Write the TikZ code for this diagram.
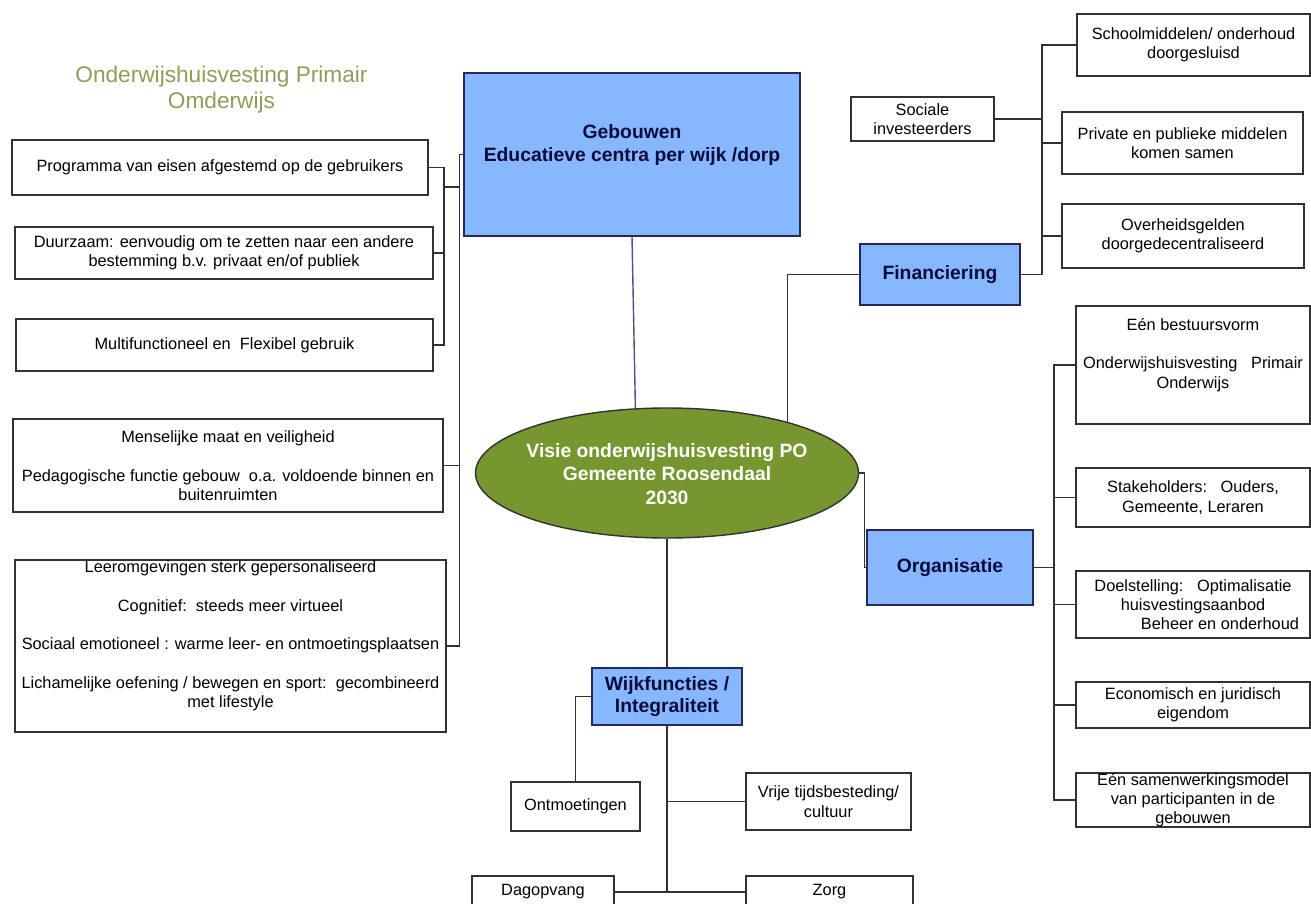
\documentclass[tikz,border=0pt]{standalone}
\usepackage{fontspec}
\setmainfont{Liberation Sans}
\usetikzlibrary{shapes.geometric}
\definecolor{linec}{RGB}{50,50,50}
\definecolor{navyb}{RGB}{40,40,90}
\definecolor{bluef}{RGB}{135,183,255}
\definecolor{greenf}{RGB}{118,150,48}
\definecolor{olivet}{RGB}{140,158,88}
\definecolor{navyt}{RGB}{12,12,60}
\definecolor{purl}{RGB}{80,80,140}
\begin{document}
\begin{tikzpicture}[x=0.02cm,y=-0.02cm,
 sz/.style 2 args={minimum width=#1*0.02cm, minimum height=#2*0.02cm},
 box/.style={draw=linec, line width=0.7pt, fill=white, inner sep=0pt, font=\fontsize{9.3}{11}\selectfont, align=center},
 bbox/.style={draw=navyb, fill=bluef, line width=0.8pt, inner sep=0pt, font=\fontsize{11}{13}\selectfont\bfseries, text=navyt, align=center},
 txt/.style={inner sep=0pt, font=\fontsize{9.3}{11}\selectfont, align=center},
 btxt/.style={inner sep=0pt, font=\fontsize{11}{13}\selectfont\bfseries, text=navyt, align=center},
 conn/.style={draw=linec, line width=0.8pt}]
\useasboundingbox (0,0) rectangle (1311,903);
\clip (0,0) rectangle (1311,903);

% title
\node[font=\fontsize{12.9}{14.7}\selectfont, text=olivet, align=center, inner sep=0pt] (title) at (221.5,90) {Onderwijshuisvesting Primair\\Omderwijs};

% left boxes
\node[box, sz={416}{55}] (b1) at (220,167.5) {Programma van eisen afgestemd op de gebruikers};
\node[box, sz={418}{52}] (b2) at (224,253) {Duurzaam: eenvoudig om te zetten naar een andere\\bestemming b.v. privaat en/of publiek};
\node[box, sz={417}{52}] (b3) at (224.5,345) {Multifunctioneel en~~Flexibel gebruik};
\node[box, sz={430}{93}] (b4) at (228,465.5) {Menselijke maat en veiligheid\\[11pt]Pedagogische functie gebouw~~o.a. voldoende binnen en\\buitenruimten};
\node[box, sz={431}{172}] (b5) at (230.5,646) {};
\node[txt] (b5t) at (230.5,636) {Leeromgevingen sterk gepersonaliseerd\\[11pt]Cognitief:~~steeds meer virtueel\\[11pt]Sociaal emotioneel : warme leer- en ontmoetingsplaatsen\\[11pt]Lichamelijke oefening / bewegen en sport:~~gecombineerd\\met lifestyle};

% central
\node[bbox, sz={336}{163}] (geb) at (632,154.5) {};
\node[btxt] (gebt) at (632,145) {Gebouwen\\Educatieve centra per wijk /dorp};
\node[ellipse, draw=linec, line width=0.8pt, fill=greenf, inner sep=0pt, sz={383}{130}] (vis) at (667,473) {};
\node[inner sep=0pt, font=\fontsize{11}{13.3}\selectfont\bfseries, text=white, align=center] (vist) at (667,474) {Visie onderwijshuisvesting PO\\Gemeente Roosendaal\\2030};
\node[bbox, sz={150}{57}] (wijk) at (667,696.5) {Wijkfuncties /\\Integraliteit};
\node[box, sz={129}{49}] (ont) at (575.5,806.5) {Ontmoetingen};
\node[box, sz={165}{57}] (vri) at (828.5,801.5) {Vrije tijdsbesteding/\\cultuur};
\node[box, sz={142}{32}] (dag) at (543,892) {Dagopvang};
\node[box, sz={167}{32}] (zorg) at (829.5,892) {Zorg};

% financiering
\node[bbox, sz={160}{61}] (fin) at (940,274.5) {Financiering};
\node[box, sz={143}{44}] (soc) at (922.5,119) {Sociale\\investeerders};
\node[box, sz={233}{62}] (sm) at (1193.5,45) {Schoolmiddelen/ onderhoud\\doorgesluisd};
\node[box, sz={241}{62}] (pri) at (1182.5,143) {Private en publieke middelen\\komen samen};
\node[box, sz={242}{64}] (ovh) at (1183,236) {Overheidsgelden\\doorgedecentraliseerd};

% organisatie
\node[bbox, sz={166}{75}] (org) at (950,567.5) {Organisatie};
\node[box, sz={234}{118}] (een) at (1193,365) {};
\node[txt] (eent) at (1193,355) {Eén bestuursvorm\\[11pt]Onderwijshuisvesting~~~Primair\\Onderwijs};
\node[box, sz={234}{59}] (stk) at (1193,497.5) {Stakeholders:~~~Ouders,\\Gemeente, Leraren};
\node[box, sz={234}{67}] (doel) at (1193,604.5) {Doelstelling:~~~Optimalisatie\\huisvestingsaanbod\\\hspace*{3.3em}Beheer en onderhoud};
\node[box, sz={234}{46}] (eco) at (1193,705) {Economisch en juridisch\\eigendom};
\node[box, sz={234}{54}] (sam) at (1193,800) {Eén samenwerkingsmodel\\van participanten in de\\gebouwen};

% junction coordinates
\coordinate (ja) at (444,187);
\coordinate (jb) at (460,187);
\coordinate (fx) at (1042,0);
\coordinate (ox) at (1054,0);

% left connectors
\draw[conn] (b1.east) -| (ja) |- (b3.east);
\draw[conn] (b2.east) -- (b2.east -| ja);
\draw[conn] (ja) -- (jb);
\draw[conn] (geb.west) -- ++(-4,0) |- (b5.east);
\draw[conn] (b4.east) -- (b4.east -| jb);

% central connectors
\draw[draw=purl, line width=0.8pt] (geb.south) -- (vis.116);
\draw[conn] (vis.south) -- (wijk.north);
\draw[conn] (wijk.west) -| (ont.north);
\draw[conn] (wijk.south) -- (wijk.south |- dag.east);
\draw[conn] (dag.east) -- (zorg.west);
\draw[conn] (wijk.south |- vri.west) -- (vri.west);

% financiering connectors
\draw[conn] (vis.23) |- (fin.west);
\draw[conn] (fin.east) -- (fin.east -| fx) -- (fx |- sm.west) -- (sm.west);
\draw[conn] (soc.east) -- (soc.east -| fx);
\draw[conn] (fx |- pri.west) -- (pri.west);
\draw[conn] (fx |- ovh.west) -- (ovh.west);

% organisatie connectors
\draw[conn] (vis.east) -- ++(5,0) |- (org.west);
\draw[conn] (org.east) -- (org.east -| ox);
\draw[conn] (een.west) -- (ox |- een.west) -- (ox |- sam.west) -- (sam.west);
\draw[conn] (ox |- stk.west) -- (stk.west);
\draw[conn] (ox |- doel.west) -- (doel.west);
\draw[conn] (ox |- eco.west) -- (eco.west);
\end{tikzpicture}
\end{document}
